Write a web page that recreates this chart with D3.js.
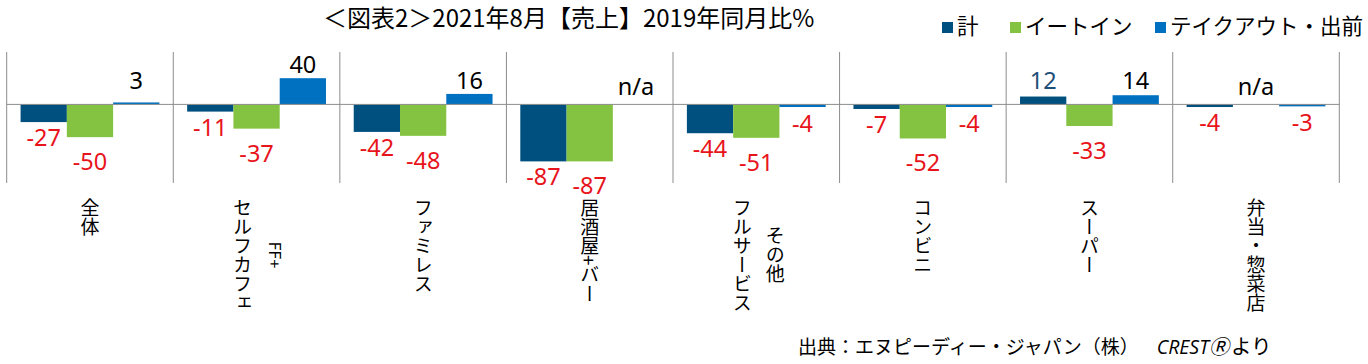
<!DOCTYPE html>
<html><head><meta charset="utf-8">
<script src="https://cdn.jsdelivr.net/npm/d3@7/dist/d3.min.js"></script>
<style>
html,body{margin:0;padding:0;background:#fff;}
svg{display:block;font-family:"Noto Sans CJK JP","Noto Sans",sans-serif;}
</style></head>
<body>
<svg id="chart" width="1368" height="364"></svg>
<script>
const title = "＜図表2＞2021年8月【売上】2019年同月比%";
const categories = ["全体","セルフカフェFF+","ファミレス","居酒屋+バー","フルサービスその他","コンビニ","スーパー","弁当・惣菜店"];
const categoryLines = [["全体"],["セルフカフェ","FF+"],["ファミレス"],["居酒屋+バー"],["フルサービス","その他"],["コンビニ"],["スーパー"],["弁当・惣菜店"]];
const seriesNames = ["計","イートイン","テイクアウト・出前"];
const totalValues   = [-27,-11,-42,-87,-44,-7,12,-4];
const eatInValues   = [-50,-37,-48,-87,-51,-52,-33,null];
const takeoutValues = [3,40,16,null,-4,-4,14,-3];
const source = "出典：エヌピーディー・ジャパン（株）";
const sourceBrand = "CREST";
const sourceMark = "Ⓡ";
const sourceTail = "より";

const colors = ["#00507f","#84c341","#0070c0"];
const posLabelColors = ["#1f4e79","#000","#000"];
const negOffset = [24,33,25];

const svg = d3.select("#chart");
const seriesValues = [totalValues, eatInValues, takeoutValues];

const x = d3.scaleBand().domain(categories).range([6.7,1339.3]).padding(0);
const xs = d3.scaleBand().domain(d3.range(3)).range([0,x.bandwidth()]).paddingInner(0).paddingOuter(0.3);
const y = d3.scaleLinear().domain([-120,80]).range([183,52]);

// title
svg.append("text").attr("x",323).attr("y",27).attr("font-size",24).attr("fill","#000").text(title);

// legend
const legX = [942,1010,1155];
seriesNames.forEach((n,i)=>{
  svg.append("rect").attr("x",legX[i]).attr("y",22).attr("width",11).attr("height",11).attr("fill",colors[i]);
  svg.append("text").attr("x",legX[i]+15).attr("y",34).attr("font-size",21.5).attr("fill","#000").text(n);
});

// separators
const seps = categories.map(c=>x(c)).concat([x.range()[1]]);
svg.selectAll("line.sep").data(seps).join("line")
  .attr("x1",d=>d).attr("x2",d=>d).attr("y1",52).attr("y2",183)
  .attr("stroke","#8c8c8c").attr("stroke-width",1);

// bars
const g = svg.append("g");
seriesValues.forEach((vals,si)=>{
  g.selectAll("rect.s"+si).data(vals.map((v,i)=>({v,i}))).join("rect")
    .attr("x",d=>x(categories[d.i])+xs(si))
    .attr("width",xs.bandwidth())
    .attr("y",d=>d.v==null?y(0):Math.min(y(d.v),y(0)))
    .attr("height",d=>d.v==null?0:Math.abs(y(d.v)-y(0)))
    .attr("fill",colors[si]);
});

// zero line
svg.append("line").attr("x1",x.range()[0]).attr("x2",x.range()[1]).attr("y1",y(0)).attr("y2",y(0))
  .attr("stroke","#8c8c8c").attr("stroke-width",1);

// value labels
seriesValues.forEach((vals,si)=>{
  vals.forEach((v,i)=>{
    const cx = x(categories[i])+xs(si)+xs.bandwidth()/2;
    let ty, col, txt;
    if(v==null){ ty=y(0)-9; col="#000"; txt="n/a"; }
    else if(v>=0){ ty=Math.min(y(v)-5,89); col=posLabelColors[si]; txt=String(v); }
    else { ty=y(v)+negOffset[si]; col="#e8141b"; txt=String(v); }
    svg.append("text").attr("x",cx).attr("y",ty).attr("text-anchor","middle")
      .attr("font-family","'Noto Sans',sans-serif").attr("font-size",23.5).attr("fill",col).text(txt);
  });
});

// category labels (vertical)
categoryLines.forEach((lines,i)=>{
  const cx = x(categories[i])+x.bandwidth()/2;
  const fs = 19;
  if(lines.length===1){
    svg.append("text").attr("x",cx).attr("y",198).attr("font-size",fs)
      .style("writing-mode","vertical-rl").attr("fill","#000").text(lines[0]);
  } else {
    const mid = 198 + lines[0].length*fs/2;
    svg.append("text").attr("x",cx-14).attr("y",198).attr("font-size",fs)
      .style("writing-mode","vertical-rl").attr("fill","#000").text(lines[0]);
    const small = /^[A-Za-z+]+$/.test(lines[1]);
    svg.append("text").attr("x",cx+19).attr("y",mid).attr("text-anchor","middle")
      .attr("font-size",small?16:fs)
      .style("writing-mode","vertical-rl").attr("fill","#000").text(lines[1]);
  }
});

// source
const st = svg.append("text").attr("x",798).attr("y",354).attr("font-size",19).attr("fill","#000");
st.append("tspan").text(source);
st.append("tspan").attr("dx",18).attr("font-style","italic").attr("font-family","'Open Sans',sans-serif").attr("font-size",19.5).text(sourceBrand);
st.append("tspan").attr("font-style","italic").attr("font-size",20).text(sourceMark);
st.append("tspan").attr("dx",2).attr("font-size",20.5).text(sourceTail);
</script>
</body></html>
